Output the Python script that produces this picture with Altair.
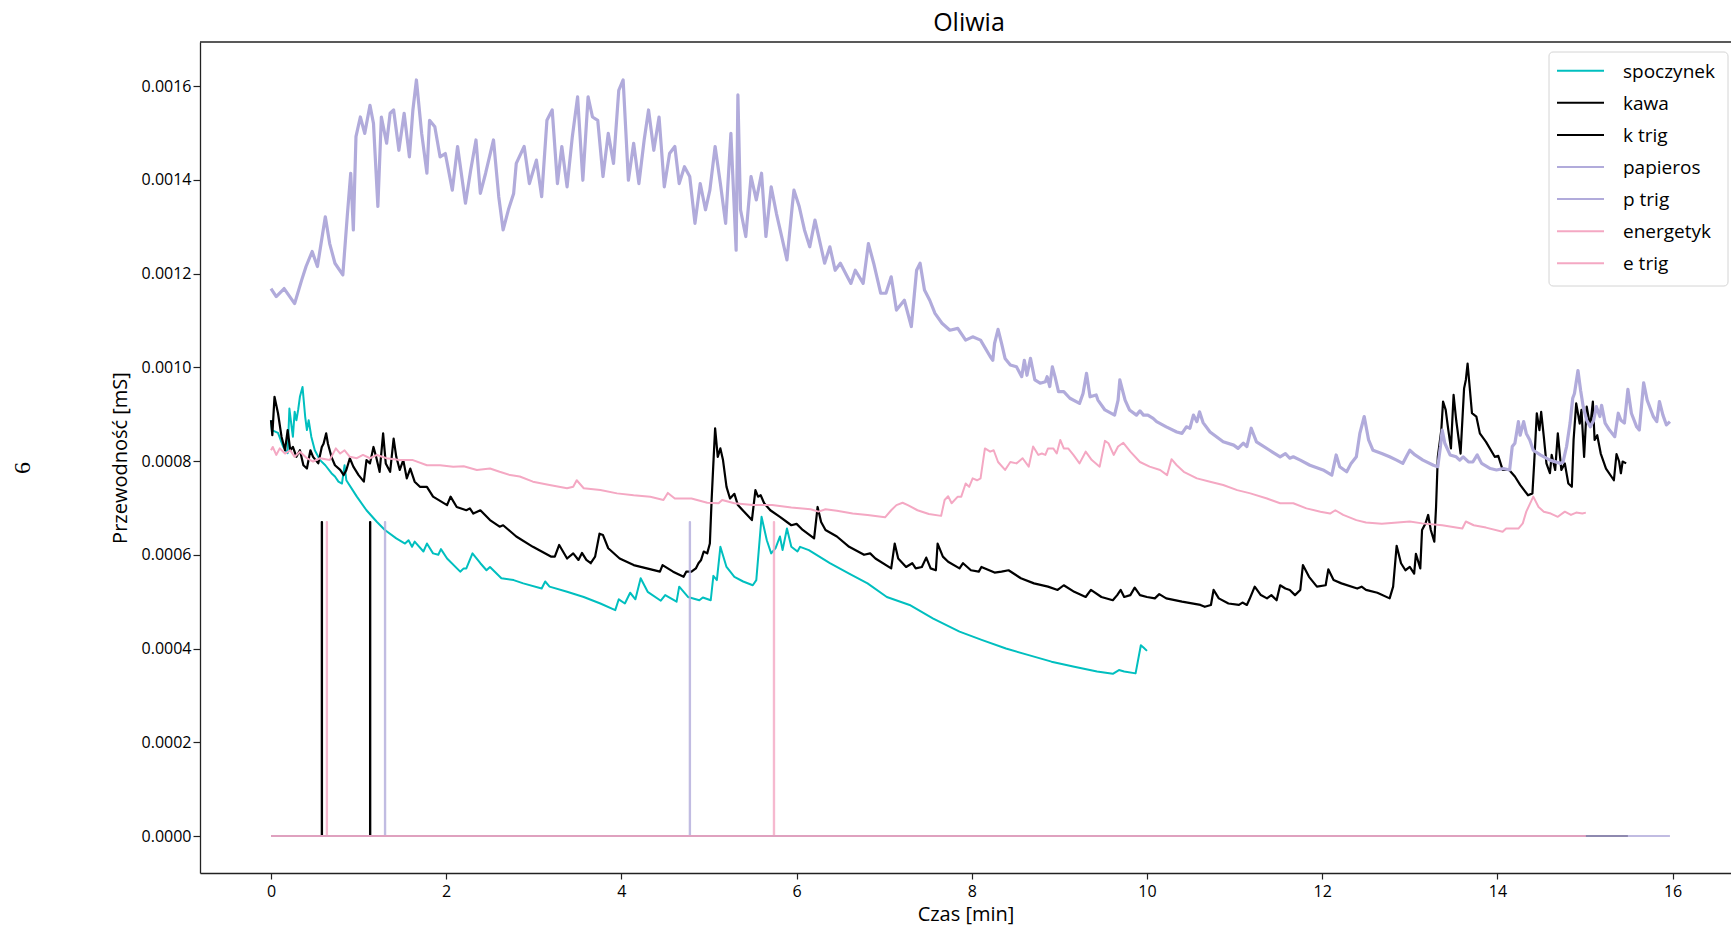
import altair as alt
import pandas as pd

# ---------------- data (time [min], conductance [mS]) ----------------
spoczynek = [
    (0.00, 0.000887), (0.01, 0.000866), (0.08, 0.000860), (0.14, 0.000830), (0.19, 0.000817),
    (0.21, 0.000912), (0.24, 0.000866), (0.25, 0.000852), (0.27, 0.000905), (0.29, 0.000887),
    (0.31, 0.000909), (0.33, 0.000937), (0.36, 0.000958), (0.39, 0.000895), (0.41, 0.000866),
    (0.43, 0.000887), (0.46, 0.000852), (0.50, 0.000823), (0.56, 0.000802), (0.62, 0.000791),
    (0.69, 0.000774), (0.73, 0.000767), (0.77, 0.000756), (0.81, 0.000752), (0.84, 0.000791),
    (0.86, 0.000759), (0.98, 0.000724), (1.09, 0.000695), (1.21, 0.000670), (1.30, 0.000653),
    (1.43, 0.000635), (1.53, 0.000624), (1.57, 0.000631), (1.61, 0.000617), (1.64, 0.000628),
    (1.74, 0.000607), (1.78, 0.000624), (1.85, 0.000603), (1.91, 0.000600), (1.94, 0.000612),
    (2.01, 0.000592), (2.16, 0.000564), (2.20, 0.000571), (2.23, 0.000571), (2.30, 0.000603),
    (2.39, 0.000582), (2.46, 0.000567), (2.50, 0.000574), (2.63, 0.000550), (2.77, 0.000546),
    (2.88, 0.000539), (3.09, 0.000528), (3.13, 0.000543), (3.18, 0.000532), (3.38, 0.000521),
    (3.57, 0.000510), (3.76, 0.000496), (3.93, 0.000482), (3.97, 0.000505), (4.04, 0.000496),
    (4.10, 0.000519), (4.16, 0.000505), (4.22, 0.000550), (4.30, 0.000521), (4.45, 0.000502),
    (4.50, 0.000514), (4.63, 0.000500), (4.66, 0.000532), (4.76, 0.000510), (4.89, 0.000503),
    (4.93, 0.000509), (5.02, 0.000503), (5.05, 0.000555), (5.09, 0.000546), (5.13, 0.000617),
    (5.20, 0.000574), (5.29, 0.000553), (5.39, 0.000543), (5.50, 0.000535), (5.54, 0.000546),
    (5.60, 0.000681), (5.66, 0.000631), (5.71, 0.000603), (5.76, 0.000614), (5.81, 0.000639),
    (5.84, 0.000610), (5.89, 0.000656), (5.94, 0.000617), (6.01, 0.000607), (6.04, 0.000617),
    (6.14, 0.000610), (6.38, 0.000582), (6.60, 0.000560), (6.81, 0.000539), (7.03, 0.000510),
    (7.29, 0.000493), (7.56, 0.000464), (7.86, 0.000436), (8.12, 0.000418), (8.39, 0.000400),
    (8.65, 0.000386), (8.91, 0.000372), (9.17, 0.000361), (9.43, 0.000351), (9.61, 0.000346),
    (9.68, 0.000354), (9.74, 0.000351), (9.87, 0.000347), (9.93, 0.000407), (9.96, 0.000402),
    (10.00, 0.000395),
]

kawa = [
    (0.00, 0.000887), (0.015, 0.000855), (0.04, 0.000937), (0.08, 0.000902), (0.12, 0.000852),
    (0.16, 0.000823), (0.19, 0.000866), (0.22, 0.000823), (0.25, 0.000830), (0.29, 0.000809),
    (0.33, 0.000823), (0.37, 0.000791), (0.41, 0.000784), (0.45, 0.000823), (0.48, 0.000809),
    (0.54, 0.000795), (0.58, 0.000830), (0.60, 0.000837), (0.63, 0.000859), (0.65, 0.000837),
    (0.69, 0.000809), (0.73, 0.000791), (0.79, 0.000781), (0.83, 0.000770), (0.86, 0.000781),
    (0.90, 0.000806), (0.94, 0.000788), (1.00, 0.000770), (1.06, 0.000756), (1.09, 0.000802),
    (1.13, 0.000795), (1.17, 0.000830), (1.20, 0.000809), (1.24, 0.000777), (1.28, 0.000859),
    (1.31, 0.000795), (1.36, 0.000777), (1.40, 0.000848), (1.43, 0.000809), (1.47, 0.000781),
    (1.51, 0.000802), (1.55, 0.000763), (1.59, 0.000784), (1.64, 0.000756), (1.70, 0.000745),
    (1.78, 0.000745), (1.85, 0.000724), (2.01, 0.000706), (2.05, 0.000724), (2.12, 0.000702),
    (2.23, 0.000695), (2.27, 0.000699), (2.31, 0.000688), (2.39, 0.000695), (2.50, 0.000674),
    (2.61, 0.000660), (2.65, 0.000663), (2.80, 0.000639), (2.99, 0.000617), (3.20, 0.000596),
    (3.24, 0.000596), (3.29, 0.000621), (3.38, 0.000592), (3.45, 0.000603), (3.51, 0.000589),
    (3.55, 0.000604), (3.60, 0.000589), (3.65, 0.000582), (3.70, 0.000596), (3.75, 0.000645),
    (3.79, 0.000642), (3.85, 0.000614), (3.98, 0.000592), (4.14, 0.000578), (4.29, 0.000571),
    (4.44, 0.000564), (4.47, 0.000578), (4.59, 0.000564), (4.71, 0.000553), (4.74, 0.000564),
    (4.80, 0.000564), (4.85, 0.000571), (4.88, 0.000582), (4.91, 0.000589), (4.94, 0.000607),
    (4.98, 0.000603), (5.01, 0.000624), (5.03, 0.000717), (5.05, 0.000795), (5.07, 0.000870),
    (5.10, 0.000809), (5.13, 0.000827), (5.16, 0.000802), (5.20, 0.000745), (5.24, 0.000720),
    (5.29, 0.000730), (5.33, 0.000706), (5.42, 0.000688), (5.49, 0.000674), (5.53, 0.000738),
    (5.56, 0.000724), (5.59, 0.000727), (5.63, 0.000710), (5.70, 0.000695), (5.81, 0.000681),
    (5.94, 0.000663), (6.00, 0.000666), (6.07, 0.000653), (6.20, 0.000635), (6.24, 0.000702),
    (6.28, 0.000670), (6.33, 0.000653), (6.46, 0.000639), (6.60, 0.000617), (6.77, 0.000600),
    (6.84, 0.000603), (6.90, 0.000592), (7.08, 0.000571), (7.12, 0.000624), (7.16, 0.000592),
    (7.25, 0.000574), (7.32, 0.000582), (7.36, 0.000571), (7.43, 0.000574), (7.48, 0.000594),
    (7.53, 0.000571), (7.59, 0.000567), (7.61, 0.000624), (7.67, 0.000596), (7.73, 0.000585),
    (7.86, 0.000571), (7.90, 0.000582), (7.99, 0.000567), (8.08, 0.000564), (8.11, 0.000574),
    (8.26, 0.000562), (8.34, 0.000564), (8.42, 0.000567), (8.56, 0.000550), (8.71, 0.000539),
    (8.87, 0.000532), (8.98, 0.000525), (9.05, 0.000535), (9.17, 0.000521), (9.30, 0.000510),
    (9.36, 0.000525), (9.48, 0.000510), (9.61, 0.000503), (9.66, 0.000514), (9.70, 0.000525),
    (9.74, 0.000510), (9.81, 0.000514), (9.86, 0.000530), (9.92, 0.000514), (10.00, 0.000510),
    (10.09, 0.000507), (10.14, 0.000516), (10.22, 0.000507), (10.40, 0.000500), (10.61, 0.000493),
    (10.66, 0.000489), (10.73, 0.000493), (10.76, 0.000525), (10.82, 0.000507), (10.93, 0.000496),
    (11.05, 0.000493), (11.09, 0.000498), (11.14, 0.000493), (11.17, 0.000505), (11.23, 0.000532),
    (11.30, 0.000514), (11.37, 0.000507), (11.42, 0.000514), (11.48, 0.000503), (11.52, 0.000535),
    (11.58, 0.000528), (11.63, 0.000525), (11.69, 0.000514), (11.75, 0.000525), (11.78, 0.000578),
    (11.85, 0.000553), (11.94, 0.000532), (12.04, 0.000535), (12.07, 0.000569), (12.13, 0.000546),
    (12.22, 0.000539), (12.40, 0.000528), (12.45, 0.000532), (12.50, 0.000525), (12.63, 0.000519),
    (12.77, 0.000507), (12.81, 0.000532), (12.85, 0.000619), (12.90, 0.000582), (12.95, 0.000567),
    (13.00, 0.000574), (13.05, 0.000560), (13.07, 0.000602), (13.12, 0.000571), (13.14, 0.000653),
    (13.18, 0.000667), (13.21, 0.000685), (13.24, 0.000653), (13.28, 0.000628), (13.30, 0.000702),
    (13.32, 0.000809), (13.36, 0.000866), (13.38, 0.000927), (13.41, 0.000909), (13.44, 0.000866),
    (13.47, 0.000827), (13.50, 0.000941), (13.53, 0.000887), (13.58, 0.000816), (13.62, 0.000955),
    (13.64, 0.000973), (13.66, 0.001008), (13.68, 0.000966), (13.71, 0.000902), (13.76, 0.000895),
    (13.80, 0.000859), (13.87, 0.000841), (13.97, 0.000809), (14.01, 0.000811), (14.06, 0.000781),
    (14.13, 0.000782), (14.20, 0.000767), (14.26, 0.000749), (14.35, 0.000727), (14.40, 0.000731),
    (14.42, 0.000795), (14.45, 0.000902), (14.48, 0.000866), (14.50, 0.000905), (14.53, 0.000852),
    (14.56, 0.000795), (14.60, 0.000774), (14.62, 0.000813), (14.66, 0.000781), (14.69, 0.000859),
    (14.73, 0.000781), (14.77, 0.000795), (14.81, 0.000752), (14.85, 0.000745), (14.87, 0.000845),
    (14.90, 0.000923), (14.94, 0.000880), (14.96, 0.000909), (14.99, 0.000809), (15.02, 0.000916),
    (15.06, 0.000873), (15.09, 0.000927), (15.11, 0.000845), (15.14, 0.000855), (15.18, 0.000816),
    (15.24, 0.000784), (15.33, 0.000759), (15.36, 0.000815), (15.39, 0.000799), (15.41, 0.000774),
    (15.43, 0.000799), (15.47, 0.000795),
]

papieros = [
    (0.00, 0.001168), (0.06, 0.001151), (0.15, 0.001168), (0.27, 0.001136), (0.35, 0.001186),
    (0.40, 0.001215), (0.47, 0.001247), (0.53, 0.001215), (0.62, 0.001321), (0.67, 0.001264),
    (0.73, 0.001222), (0.82, 0.001197), (0.87, 0.001321), (0.91, 0.001414), (0.94, 0.001293),
    (0.97, 0.001492), (1.02, 0.001534), (1.07, 0.001499), (1.13, 0.001559), (1.17, 0.001520),
    (1.22, 0.001343), (1.26, 0.001534), (1.32, 0.001478), (1.36, 0.001542), (1.40, 0.001549),
    (1.46, 0.001463), (1.52, 0.001542), (1.58, 0.001449), (1.62, 0.001549), (1.66, 0.001613),
    (1.72, 0.001499), (1.78, 0.001414), (1.81, 0.001527), (1.87, 0.001513), (1.93, 0.001449),
    (1.99, 0.001456), (2.07, 0.001378), (2.13, 0.001471), (2.22, 0.001350), (2.28, 0.001421),
    (2.34, 0.001485), (2.39, 0.001371), (2.45, 0.001414), (2.54, 0.001485), (2.60, 0.001364),
    (2.65, 0.001293), (2.71, 0.001336), (2.77, 0.001371), (2.80, 0.001435), (2.89, 0.001471),
    (2.95, 0.001392), (3.03, 0.001442), (3.09, 0.001364), (3.15, 0.001527), (3.21, 0.001549),
    (3.27, 0.001392), (3.32, 0.001471), (3.38, 0.001385), (3.44, 0.001492), (3.50, 0.001577),
    (3.56, 0.001399), (3.62, 0.001577), (3.67, 0.001534), (3.73, 0.001527), (3.79, 0.001407),
    (3.85, 0.001499), (3.91, 0.001435), (3.97, 0.001591), (4.02, 0.001613), (4.08, 0.001399),
    (4.14, 0.001478), (4.20, 0.001392), (4.26, 0.001485), (4.31, 0.001549), (4.37, 0.001463),
    (4.43, 0.001534), (4.49, 0.001385), (4.55, 0.001456), (4.61, 0.001471), (4.66, 0.001392),
    (4.72, 0.001428), (4.78, 0.001407), (4.84, 0.001307), (4.90, 0.001392), (4.96, 0.001336),
    (5.01, 0.001378), (5.07, 0.001471), (5.13, 0.001392), (5.19, 0.001307), (5.25, 0.001499),
    (5.31, 0.001250), (5.33, 0.001581), (5.36, 0.001336), (5.42, 0.001279), (5.48, 0.001407),
    (5.54, 0.001357), (5.60, 0.001414), (5.65, 0.001279), (5.71, 0.001385), (5.77, 0.001328),
    (5.83, 0.001279), (5.89, 0.001229), (5.95, 0.001343), (5.97, 0.001378), (6.03, 0.001343),
    (6.09, 0.001293), (6.15, 0.001257), (6.21, 0.001314), (6.27, 0.001264), (6.32, 0.001222),
    (6.38, 0.001257), (6.44, 0.001207), (6.50, 0.001222), (6.56, 0.001200), (6.62, 0.001179),
    (6.67, 0.001207), (6.76, 0.001179), (6.82, 0.001264), (6.88, 0.001222), (6.96, 0.001158),
    (7.02, 0.001158), (7.08, 0.001193), (7.14, 0.001122), (7.23, 0.001143), (7.31, 0.001087),
    (7.37, 0.001207), (7.41, 0.001222), (7.46, 0.001165), (7.52, 0.001143), (7.58, 0.001115),
    (7.66, 0.001094), (7.75, 0.001079), (7.84, 0.001083), (7.93, 0.001058), (8.01, 0.001065),
    (8.10, 0.001058), (8.21, 0.001023), (8.24, 0.001015), (8.26, 0.001051), (8.30, 0.001081),
    (8.34, 0.001051), (8.38, 0.001019), (8.44, 0.001005), (8.51, 0.001001), (8.57, 0.000980),
    (8.60, 0.001015), (8.63, 0.000983), (8.67, 0.001019), (8.72, 0.000973), (8.78, 0.000966),
    (8.84, 0.000969), (8.86, 0.000980), (8.89, 0.000959), (8.92, 0.001001), (8.95, 0.000980),
    (8.99, 0.000948), (9.05, 0.000948), (9.12, 0.000934), (9.23, 0.000923), (9.27, 0.000944),
    (9.31, 0.000987), (9.35, 0.000937), (9.42, 0.000941), (9.44, 0.000930), (9.52, 0.000909),
    (9.63, 0.000898), (9.67, 0.000930), (9.69, 0.000973), (9.75, 0.000930), (9.80, 0.000909),
    (9.88, 0.000898), (9.92, 0.000907), (9.96, 0.000898), (10.01, 0.000898), (10.07, 0.000891),
    (10.11, 0.000884), (10.22, 0.000873), (10.34, 0.000862), (10.40, 0.000859), (10.45, 0.000873),
    (10.49, 0.000870), (10.53, 0.000898), (10.57, 0.000884), (10.60, 0.000905), (10.64, 0.000882),
    (10.72, 0.000862), (10.87, 0.000841), (10.99, 0.000834), (11.04, 0.000827), (11.10, 0.000838),
    (11.14, 0.000831), (11.19, 0.000870), (11.25, 0.000841), (11.40, 0.000823), (11.52, 0.000809),
    (11.58, 0.000816), (11.63, 0.000806), (11.67, 0.000809), (11.75, 0.000802), (11.86, 0.000791),
    (12.01, 0.000781), (12.11, 0.000770), (12.16, 0.000813), (12.20, 0.000788), (12.28, 0.000777),
    (12.33, 0.000795), (12.39, 0.000809), (12.43, 0.000859), (12.48, 0.000895), (12.53, 0.000845),
    (12.58, 0.000823), (12.68, 0.000816), (12.77, 0.000809), (12.85, 0.000802), (12.92, 0.000795),
    (12.96, 0.000809), (13.00, 0.000823), (13.06, 0.000813), (13.15, 0.000802), (13.27, 0.000791),
    (13.32, 0.000788), (13.35, 0.000831), (13.37, 0.000866), (13.40, 0.000838), (13.46, 0.000813),
    (13.53, 0.000809), (13.57, 0.000802), (13.61, 0.000809), (13.67, 0.000798), (13.72, 0.000798),
    (13.77, 0.000813), (13.82, 0.000795), (13.92, 0.000784), (13.99, 0.000781), (14.07, 0.000784),
    (14.14, 0.000781), (14.17, 0.000831), (14.20, 0.000838), (14.24, 0.000884), (14.26, 0.000855),
    (14.30, 0.000884), (14.33, 0.000859), (14.37, 0.000845), (14.41, 0.000823), (14.49, 0.000813),
    (14.60, 0.000802), (14.72, 0.000795), (14.75, 0.000798), (14.79, 0.000831), (14.83, 0.000881),
    (14.86, 0.000934), (14.88, 0.000944), (14.92, 0.000993), (14.95, 0.000951), (14.98, 0.000916),
    (15.02, 0.000887), (15.06, 0.000873), (15.10, 0.000887), (15.13, 0.000916), (15.17, 0.000895),
    (15.19, 0.000919), (15.23, 0.000881), (15.28, 0.000866), (15.34, 0.000852), (15.38, 0.000902),
    (15.41, 0.000887), (15.45, 0.000881), (15.49, 0.000953), (15.53, 0.000902), (15.59, 0.000873),
    (15.62, 0.000866), (15.67, 0.000967), (15.71, 0.000930), (15.78, 0.000895), (15.82, 0.000884),
    (15.85, 0.000927), (15.89, 0.000898), (15.93, 0.000877), (15.97, 0.000884),
]

energetyk = [
    (0.00, 0.000823), (0.02, 0.000830), (0.06, 0.000813), (0.10, 0.000827), (0.16, 0.000816),
    (0.22, 0.000823), (0.27, 0.000809), (0.33, 0.000820), (0.41, 0.000806), (0.48, 0.000799),
    (0.56, 0.000806), (0.67, 0.000802), (0.74, 0.000827), (0.79, 0.000816), (0.84, 0.000823),
    (0.90, 0.000809), (0.98, 0.000806), (1.05, 0.000813), (1.13, 0.000806), (1.21, 0.000813),
    (1.32, 0.000806), (1.47, 0.000802), (1.62, 0.000802), (1.78, 0.000791), (1.93, 0.000791),
    (2.08, 0.000788), (2.20, 0.000789), (2.35, 0.000781), (2.50, 0.000784), (2.61, 0.000777),
    (2.73, 0.000770), (2.84, 0.000767), (2.99, 0.000756), (3.18, 0.000749), (3.38, 0.000742),
    (3.45, 0.000745), (3.49, 0.000759), (3.57, 0.000742), (3.76, 0.000738), (3.95, 0.000731),
    (4.14, 0.000727), (4.33, 0.000724), (4.48, 0.000717), (4.53, 0.000732), (4.61, 0.000720),
    (4.80, 0.000720), (4.98, 0.000711), (5.11, 0.000710), (5.15, 0.000717), (5.29, 0.000710),
    (5.50, 0.000706), (5.72, 0.000706), (5.94, 0.000701), (6.16, 0.000697), (6.25, 0.000692),
    (6.33, 0.000697), (6.46, 0.000694), (6.64, 0.000688), (6.81, 0.000685), (7.01, 0.000680),
    (7.08, 0.000695), (7.14, 0.000706), (7.21, 0.000711), (7.27, 0.000706), (7.38, 0.000695),
    (7.51, 0.000687), (7.65, 0.000683), (7.69, 0.000717), (7.73, 0.000725), (7.77, 0.000710),
    (7.84, 0.000724), (7.88, 0.000724), (7.93, 0.000752), (7.97, 0.000745), (8.01, 0.000763),
    (8.06, 0.000759), (8.10, 0.000763), (8.15, 0.000827), (8.21, 0.000820), (8.25, 0.000823),
    (8.30, 0.000798), (8.38, 0.000781), (8.44, 0.000798), (8.51, 0.000795), (8.58, 0.000806),
    (8.65, 0.000788), (8.70, 0.000831), (8.76, 0.000813), (8.80, 0.000816), (8.84, 0.000813),
    (8.87, 0.000827), (8.93, 0.000827), (8.97, 0.000816), (9.01, 0.000845), (9.05, 0.000827),
    (9.10, 0.000827), (9.16, 0.000813), (9.23, 0.000795), (9.30, 0.000820), (9.37, 0.000802),
    (9.46, 0.000788), (9.52, 0.000843), (9.56, 0.000838), (9.62, 0.000813), (9.67, 0.000831),
    (9.73, 0.000839), (9.81, 0.000820), (9.92, 0.000798), (10.03, 0.000788), (10.15, 0.000781),
    (10.23, 0.000770), (10.28, 0.000804), (10.34, 0.000791), (10.42, 0.000777), (10.57, 0.000763),
    (10.72, 0.000756), (10.87, 0.000749), (11.03, 0.000738), (11.18, 0.000731), (11.37, 0.000720),
    (11.52, 0.000710), (11.67, 0.000710), (11.82, 0.000699), (11.98, 0.000692), (12.09, 0.000688),
    (12.15, 0.000695), (12.24, 0.000685), (12.39, 0.000674), (12.50, 0.000669), (12.68, 0.000666),
    (12.86, 0.000669), (13.00, 0.000671), (13.14, 0.000667), (13.37, 0.000663), (13.60, 0.000656),
    (13.64, 0.000671), (13.73, 0.000663), (13.87, 0.000658), (14.06, 0.000649), (14.10, 0.000656),
    (14.24, 0.000656), (14.29, 0.000667), (14.33, 0.000692), (14.41, 0.000724), (14.47, 0.000702),
    (14.53, 0.000692), (14.61, 0.000688), (14.69, 0.000681), (14.77, 0.000692), (14.84, 0.000685),
    (14.90, 0.000690), (14.97, 0.000688), (15.01, 0.000690),
]

# trigger markers: times of the pulses, pulse level and end of each record
k_trig_times = [0.579, 1.13]
p_trig_times = [1.30, 4.78]
e_trig_times = [0.636, 5.74]
trig_level = 0.00067
k_trig_end = 15.49
p_trig_end = 15.97
e_trig_end = 15.01

series_names = ["spoczynek", "kawa", "k trig", "papieros", "p trig", "energetyk", "e trig"]
series_colors = ["#00bfbf", "#000000", "#000000", "#b1abdb", "#b1abdb", "#f4a8c3", "#f4a8c3"]

x_ticks = [0, 2, 4, 6, 8, 10, 12, 14, 16]
y_ticks = [0.0, 0.0002, 0.0004, 0.0006, 0.0008, 0.0010, 0.0012, 0.0014, 0.0016]

# ---------------- helpers ----------------
def frame(pairs):
    return pd.DataFrame({
        "t": [p[0] for p in pairs],
        "v": [p[1] for p in pairs],
        "i": list(range(len(pairs))),
    })


def trig_pairs(times, end):
    pts = [(0.0, 0.0)]
    for t in times:
        pts += [(t, 0.0), (t, trig_level), (t + 0.004, trig_level), (t + 0.004, 0.0)]
    pts.append((end, 0.0))
    return pts


FONT = "Open Sans"
W, H = 1531, 831

x_enc = alt.X(
    "t:Q",
    scale=alt.Scale(domain=[-0.8105, 16.667], nice=False, zero=False),
    axis=alt.Axis(values=x_ticks, format="d", title="Czas [min]", grid=False,
                  tickSize=6, labelPadding=4, titlePadding=5),
)
y_enc = alt.Y(
    "v:Q",
    scale=alt.Scale(domain=[-0.0000789, 0.001694], nice=False, zero=False),
    axis=alt.Axis(values=y_ticks, format=".4f", title="Przewodność [mS]", grid=False,
                  tickSize=7, labelPadding=2, titlePadding=11),
)


def line_layer(pairs, color, width, opacity=1.0):
    return alt.Chart(frame(pairs)).mark_line(
        color=color, strokeWidth=width, opacity=opacity, strokeJoin="round"
    ).encode(x=x_enc, y=y_enc, order="i:Q")


layers = [
    line_layer(spoczynek, series_colors[0], 2.0),
    line_layer(kawa, series_colors[1], 2.2),
    line_layer(trig_pairs(k_trig_times, k_trig_end), series_colors[2], 2.0),
    line_layer(papieros, series_colors[3], 3.2),
    line_layer(trig_pairs(p_trig_times, p_trig_end), series_colors[4], 2.0, 0.8),
    line_layer(energetyk, series_colors[5], 2.0),
    line_layer(trig_pairs(e_trig_times, e_trig_end), series_colors[6], 2.0, 0.8),
]

one = pd.DataFrame({"a": [0]})

# top spine
layers.append(
    alt.Chart(one).mark_rule(color="#222222", strokeWidth=1.3).encode(
        x=alt.value(0), x2=alt.value(W), y=alt.value(0)
    )
)

# legend box
layers.append(
    alt.Chart(one).mark_rect(
        fill="white", fillOpacity=0.85, stroke="#d4d4d4", strokeWidth=1, cornerRadius=4
    ).encode(x=alt.value(1349), x2=alt.value(1528), y=alt.value(10), y2=alt.value(244))
)
for k, (name, col) in enumerate(zip(series_names, series_colors)):
    yk = 28.7 + 32.1 * k
    layers.append(
        alt.Chart(one).mark_rule(color=col, strokeWidth=2).encode(
            x=alt.value(1357), x2=alt.value(1404), y=alt.value(yk)
        )
    )
    layers.append(
        alt.Chart(one).mark_text(
            align="left", baseline="middle", font=FONT, fontSize=19, color="#000000"
        ).encode(x=alt.value(1423), y=alt.value(yk + 1), text=alt.value(name))
    )

# title
layers.append(
    alt.Chart(one).mark_text(
        align="center", baseline="alphabetic", font=FONT, fontSize=25, color="#000000"
    ).encode(x=alt.value(769), y=alt.value(-11.5), text=alt.value("Oliwia"))
)
# stray rotated label at the far left
layers.append(
    alt.Chart(one).mark_text(
        align="center", baseline="middle", font="Liberation Serif", fontSize=24,
        angle=270, color="#000000"
    ).encode(x=alt.value(-177), y=alt.value(426), text=alt.value("6"))
)

chart = (
    alt.layer(*layers)
    .properties(
        width=W,
        height=H,
        autosize=alt.AutoSizeParams(type="none"),
        padding={"left": 200, "top": 42, "right": 0, "bottom": 57},
    )
    .configure_view(stroke=None)
    .configure_axis(
        domainColor="#222222",
        domainWidth=1.3,
        tickColor="#222222",
        tickWidth=1.2,
        labelColor="#000000",
        titleColor="#000000",
        labelFont=FONT,
        titleFont=FONT,
        labelFontSize=16,
        titleFontSize=20,
        titleFontWeight="normal",
    )
)

chart.save("out.html", embed_options={"renderer": "svg", "actions": False})
